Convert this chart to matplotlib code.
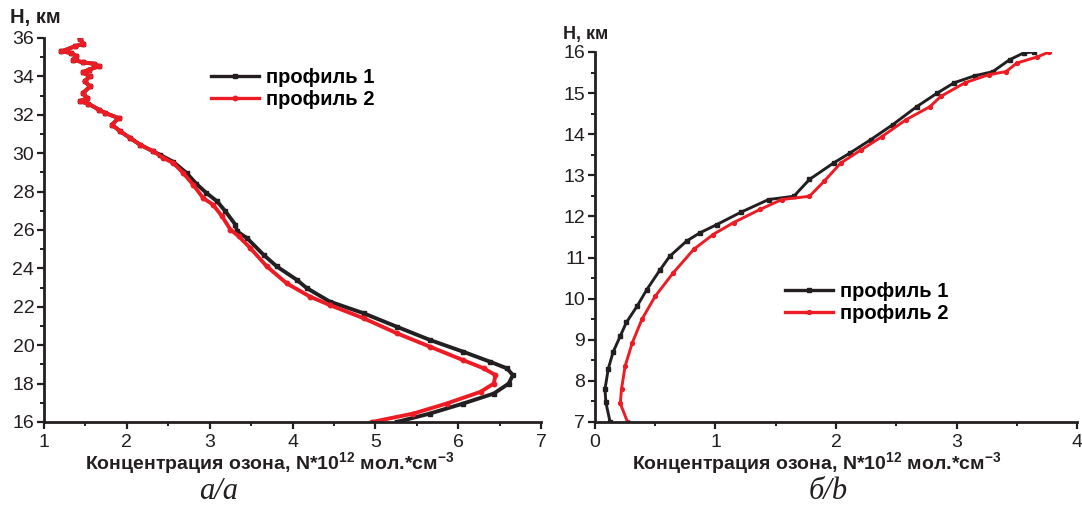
import matplotlib
matplotlib.use("Agg")
import matplotlib.pyplot as plt
from matplotlib.ticker import MultipleLocator

plt.rcParams['font.family'] = ['Liberation Sans', 'DejaVu Sans']
plt.rcParams['mathtext.fontset'] = 'custom'
plt.rcParams['mathtext.rm'] = 'Liberation Sans'
plt.rcParams['mathtext.bf'] = 'Liberation Sans:bold'

# панель а: профили озона 16-36 км (концентрация, высота)
a_p2_x = [1.435, 1.475, 1.37, 1.21, 1.33, 1.39, 1.35, 1.47, 1.60, 1.66, 1.54, 1.47,
          1.55, 1.49, 1.555, 1.47, 1.52, 1.435, 1.535, 1.66, 1.74, 1.90, 1.82, 1.92,
          2.04, 2.16, 2.32, 2.44, 2.56, 2.68, 2.80, 2.92, 3.04, 3.15, 3.25, 3.35,
          3.49, 3.69, 3.93, 4.21, 4.45, 4.86, 5.26, 5.66, 6.06, 6.31, 6.45, 6.43,
          6.27, 5.86, 5.46, 4.96]
a_p2_h = [35.95, 35.7, 35.56, 35.3, 35.22, 35.04, 34.87, 34.73, 34.66, 34.52, 34.35, 34.21,
          34.0, 33.74, 33.48, 33.13, 32.87, 32.7, 32.58, 32.27, 32.09, 31.83, 31.48, 31.14,
          30.79, 30.44, 30.09, 29.75, 29.49, 28.97, 28.36, 27.67, 27.32, 26.71, 26.02, 25.67,
          25.06, 24.1, 23.22, 22.53, 22.09, 21.4, 20.62, 19.92, 19.22, 18.79, 18.44, 18.0,
          17.57, 16.96, 16.44, 16.0]

a_p1_x = [1.435, 1.475, 1.37, 1.21, 1.33, 1.39, 1.35, 1.47, 1.60, 1.66, 1.54, 1.47,
          1.55, 1.49, 1.555, 1.47, 1.52, 1.435, 1.535, 1.66, 1.74, 1.90, 1.82, 1.92,
          2.04, 2.16, 2.32, 2.40, 2.56, 2.72, 2.84, 2.96, 3.09, 3.19, 3.31, 3.33,
          3.45, 3.65, 3.81, 4.05, 4.17, 4.45, 4.86, 5.26, 5.66, 6.06, 6.39, 6.59,
          6.66, 6.61, 6.43, 6.06, 5.66, 5.26]
a_p1_h = [35.95, 35.7, 35.56, 35.3, 35.22, 35.04, 34.87, 34.73, 34.66, 34.52, 34.35, 34.21,
          34.0, 33.74, 33.48, 33.13, 32.87, 32.7, 32.58, 32.27, 32.09, 31.83, 31.48, 31.14,
          30.79, 30.44, 30.09, 29.92, 29.55, 28.97, 28.4, 27.93, 27.49, 26.97, 26.28, 25.93,
          25.58, 24.71, 24.1, 23.41, 22.98, 22.27, 21.66, 20.96, 20.27, 19.66, 19.13, 18.79,
          18.44, 18.0, 17.48, 16.96, 16.44, 16.0]

# панель б: профили озона 7-16 км
b_p1_x = [0.125, 0.09, 0.083, 0.11, 0.15, 0.21, 0.26, 0.35, 0.43, 0.54, 0.62, 0.76,
          0.87, 1.01, 1.21, 1.44, 1.65, 1.78, 1.98, 2.12, 2.29, 2.47, 2.67, 2.84,
          2.98, 3.15, 3.30, 3.44, 3.56, 3.64]
b_p1_h = [7.0, 7.48, 7.8, 8.29, 8.7, 9.09, 9.42, 9.82, 10.22, 10.7, 11.03, 11.4,
          11.6, 11.8, 12.1, 12.41, 12.49, 12.9, 13.3, 13.55, 13.87, 14.23, 14.67, 15.0,
          15.25, 15.42, 15.52, 15.81, 15.98, 16.0]

b_p2_x = [0.27, 0.21, 0.22, 0.25, 0.31, 0.39, 0.50, 0.65, 0.82, 0.98, 1.15, 1.37,
          1.55, 1.78, 1.90, 2.04, 2.21, 2.38, 2.58, 2.78, 2.87, 3.07, 3.27, 3.41,
          3.50, 3.67, 3.77]
b_p2_h = [7.0, 7.45, 7.8, 8.36, 8.93, 9.5, 10.06, 10.63, 11.2, 11.56, 11.85, 12.17,
          12.41, 12.49, 12.85, 13.3, 13.62, 13.94, 14.35, 14.67, 14.92, 15.25, 15.45, 15.52,
          15.73, 15.88, 16.0]

names = ['профиль 1', 'профиль 2']
BLACK = '#231f20'
RED = '#ed1c24'
xlabel = r'Концентрация озона, N*10$^{\mathbf{12}}$ мол.*см$^{\mathbf{-3}}$'


def oform_osi(ax, xlim, ylim, xstep, ystep, label_x):
    ax.set_xlim(*xlim)
    ax.set_ylim(*ylim)
    ax.xaxis.set_major_locator(MultipleLocator(xstep))
    ax.xaxis.set_minor_locator(MultipleLocator(xstep / 2))
    ax.yaxis.set_major_locator(MultipleLocator(ystep))
    ax.yaxis.set_minor_locator(MultipleLocator(ystep / 2))
    for s in ('top', 'right'):
        ax.spines[s].set_visible(False)
    for s in ('left', 'bottom'):
        ax.spines[s].set_linewidth(2)
        ax.spines[s].set_color(BLACK)
    ax.tick_params(which='major', direction='out', length=5, width=1.6,
                   labelsize=14, colors=BLACK, pad=2)
    ax.tick_params(axis='x', which='major', pad=4)
    ax.tick_params(which='minor', direction='out', length=3, width=1.4, colors=BLACK)
    ax.set_xlabel(xlabel, fontsize=14, fontweight='bold', labelpad=-1, color=BLACK)
    ax.xaxis.label.set_x(label_x)


fig = plt.figure(figsize=(10.82, 5.17), dpi=100)
ax1 = fig.add_axes([0.0407, 0.1838, 0.4593, 0.7427])
ax2 = fig.add_axes([0.5499, 0.1838, 0.4455, 0.7157])

ax1.plot(a_p1_x, a_p1_h, color=BLACK, lw=2.8, marker='s', ms=3.2, label=names[0])
ax1.plot(a_p2_x, a_p2_h, color=RED, lw=2.8, marker='o', ms=3.2, label=names[1])
oform_osi(ax1, (1, 7), (16, 36), 1, 2, 0.453)

ax2.plot(b_p1_x, b_p1_h, color=BLACK, lw=2.1, marker='s', ms=2.8, label=names[0])
ax2.plot(b_p2_x, b_p2_h, color=RED, lw=2.1, marker='o', ms=2.8, label=names[1])
oform_osi(ax2, (0, 4), (7, 16), 1, 1, 0.46)

leg_kw = dict(frameon=False, handlelength=2.4, handletextpad=0.35, labelspacing=0.15,
              prop={'weight': 'bold', 'size': 14.5}, borderaxespad=0, borderpad=0)
leg1 = ax1.legend(loc='upper left', bbox_to_anchor=(0.336, 0.922), **leg_kw)
leg2 = ax2.legend(loc='upper left', bbox_to_anchor=(0.394, 0.378), **leg_kw)
for leg in (leg1, leg2):
    for ln in leg.get_lines():
        ln.set_linewidth(2.4)

fig.text(0.033, 0.966, 'H, км', fontsize=14.5, fontweight='bold', ha='center', va='center',
         color=BLACK)
fig.text(0.5416, 0.934, 'H, км', fontsize=13, fontweight='bold', ha='center', va='center',
         color=BLACK)

# подписи панелей
fig.text(0.2024, 0.05, 'а/a', fontsize=22, style='italic', family='Liberation Serif',
         ha='center', va='center', color=BLACK)
fig.text(0.765, 0.05, 'б/b', fontsize=22, style='italic', family='Liberation Serif',
         ha='center', va='center', color=BLACK)

fig.savefig('out.png', dpi=100)
